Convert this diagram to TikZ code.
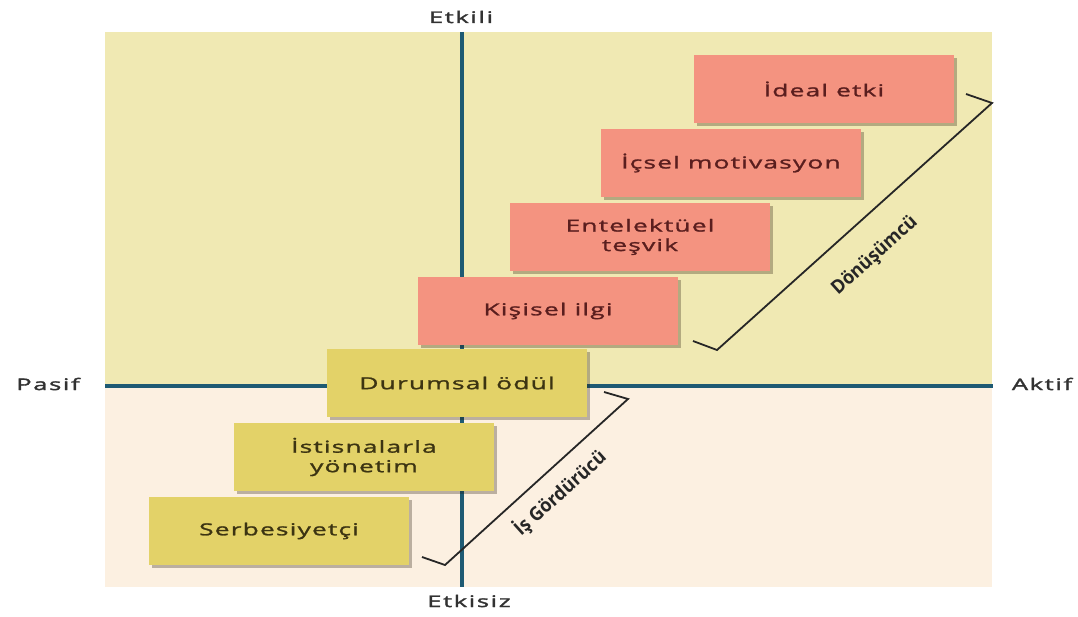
\documentclass[tikz,border=0pt]{standalone}
\usepackage{fontspec}
\setmainfont{Open Sans}[FakeStretch=0.95]
\newfontfamily\boxfont{Open Sans}[FakeStretch=1.6,LetterSpace=7,FakeBold=1.5]
\newfontfamily\axfont{Open Sans}[FakeStretch=1.6,LetterSpace=10,FakeBold=2]
\usetikzlibrary{shadows}
\definecolor{bgtop}{RGB}{240,233,179}
\definecolor{bgbot}{RGB}{252,240,225}
\definecolor{salmon}{RGB}{244,147,128}
\definecolor{ochre}{RGB}{227,210,104}
\definecolor{axisc}{RGB}{30,90,115}
\definecolor{redtext}{RGB}{90,30,30}
\definecolor{olivetext}{RGB}{60,52,18}
\definecolor{greytext}{RGB}{50,50,50}
\begin{document}
\begin{tikzpicture}[x=1pt,y=-1pt,
  stepbox/.style={minimum width=260pt, minimum height=68pt, inner sep=0pt, align=center,
    font=\boxfont\fontsize{16.5}{19.5}\selectfont,
    drop shadow={shadow xshift=3pt,shadow yshift=-3pt,opacity=0.3,fill=black!80!brown}},
  pinkbox/.style={stepbox, fill=salmon, text=redtext},
  yelbox/.style={stepbox, fill=ochre, text=olivetext},
  axisline/.style={draw=axisc, line width=4.5pt},
  brk/.style={draw=black!85, line width=1.8pt, line join=miter},
  axlbl/.style={font=\axfont\fontsize{16}{19}\selectfont, text=greytext},
  brklbl/.style={font=\bfseries\fontsize{19}{22}\selectfont, text=black!85}]
\useasboundingbox (0,0) rectangle (1078,617);
% backgrounds
\fill[bgtop] (105,32) rectangle (992,386);
\fill[bgbot] (105,386) rectangle (992,587);
% axes
\coordinate (vtop) at (462,32);
\coordinate (vbot) at (462,587);
\coordinate (hleft) at (105,386);
\coordinate (hright) at (993,386);
\draw[axisline] (vtop) -- (vbot);
\draw[axisline] (hleft) -- (hright);
% axis labels
\node[axlbl] (etkili) at (461,17) {Etkili};
\node[axlbl] (etkisiz) at (469,601) {Etkisiz};
\node[axlbl] (pasif) at (48,384) {Pasif};
\node[axlbl] (aktif) at (1042,384) {Aktif};
% brackets
\coordinate (d1) at (966,94);
\coordinate (d2) at (992,103);
\coordinate (d3) at (717,350);
\coordinate (d4) at (693,341);
\draw[brk] (d1) -- (d2) -- (d3) -- (d4);
\coordinate (g1) at (604,392);
\coordinate (g2) at (628,399);
\coordinate (g3) at (445,565);
\coordinate (g4) at (422,557);
\draw[brk] (g1) -- (g2) -- (g3) -- (g4);
\node[brklbl, rotate=42] (donlbl) at (875,256) {Dönüşümcü};
\node[brklbl, rotate=42] (islbl) at (560,493) {İş Gördürücü};
% boxes
\node[yelbox] (serb) at (279,531) {Serbesiyetçi};
\node[yelbox] (isti) at (364,457) {İstisnalarla\\yönetim};
\node[yelbox] (duru) at (457,383) {Durumsal ödül};
\node[pinkbox] (kisi) at (548,311) {Kişisel ilgi};
\node[pinkbox] (ente) at (640,237) {Entelektüel\\teşvik};
\node[pinkbox] (icse) at (731,163) {İçsel motivasyon};
\node[pinkbox] (idea) at (824,89) {İdeal etki};
\end{tikzpicture}
\end{document}
